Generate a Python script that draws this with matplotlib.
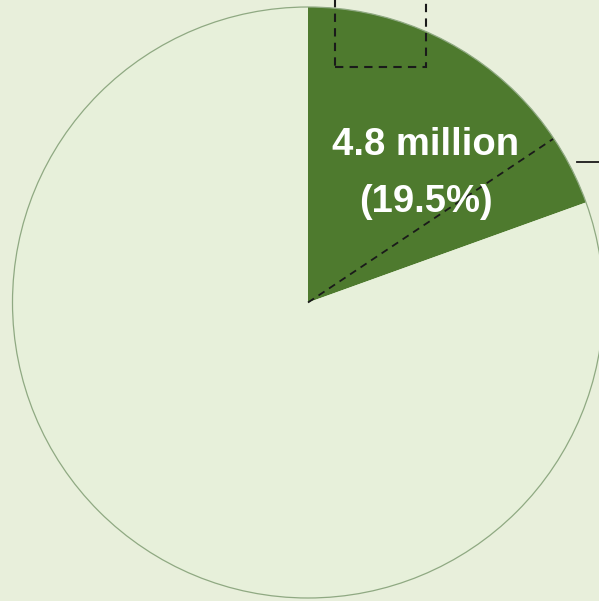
import matplotlib
matplotlib.use("Agg")
import matplotlib.pyplot as plt
from matplotlib.patches import Circle, Rectangle

# Data
labels = ["Group", "Rest"]
shares = [19.5, 80.5]
value_label = "4.8 million"
pct_label = "(19.5%)"

BG = "#e8efdb"
DARK = "#4e7a2e"

W, H = 599, 601
fig = plt.figure(figsize=(W / 100, H / 100), dpi=100)
fig.patch.set_facecolor(BG)
ax = fig.add_axes([0, 0, 1, 1])
ax.set_facecolor(BG)

cx, cy, r = 308, H - 302.5, 295.5
wedges, _ = ax.pie(shares, colors=[DARK, "#e7f0da"], startangle=90, counterclock=False,
                   center=(cx, cy), radius=r, frame=True,
                   wedgeprops=dict(linewidth=0))
ax.add_patch(Circle((cx, cy), r, fill=False, edgecolor="#8fa982", linewidth=0.9))

# dashed rectangle at top
ax.add_patch(Rectangle((335, H - 67), 426 - 335, 100, fill=False, edgecolor="#1a1a1a",
                       linewidth=1.5, linestyle=(0, (4, 3))))
# dashed leader from centre
ax.plot([cx, 553], [cy, H - 139], color="#1a1a1a", linewidth=1.3, linestyle=(0, (4, 3)))
# solid leader line
ax.plot([577, 600], [H - 162, H - 162], color="#1a1a1a", linewidth=1.3)

fam = ["Liberation Sans", "DejaVu Sans"]
ax.text(426, H - 155, value_label, color="white", fontsize=27.5, fontweight="bold",
        ha="center", va="baseline", family=fam)
ax.text(426, H - 212, pct_label, color="white", fontsize=27.5, fontweight="bold",
        ha="center", va="baseline", family=fam)

ax.set_xlim(0, W)
ax.set_ylim(0, H)
ax.set_aspect("auto")
ax.axis("off")
fig.savefig("out.png", dpi=100, facecolor=BG)
